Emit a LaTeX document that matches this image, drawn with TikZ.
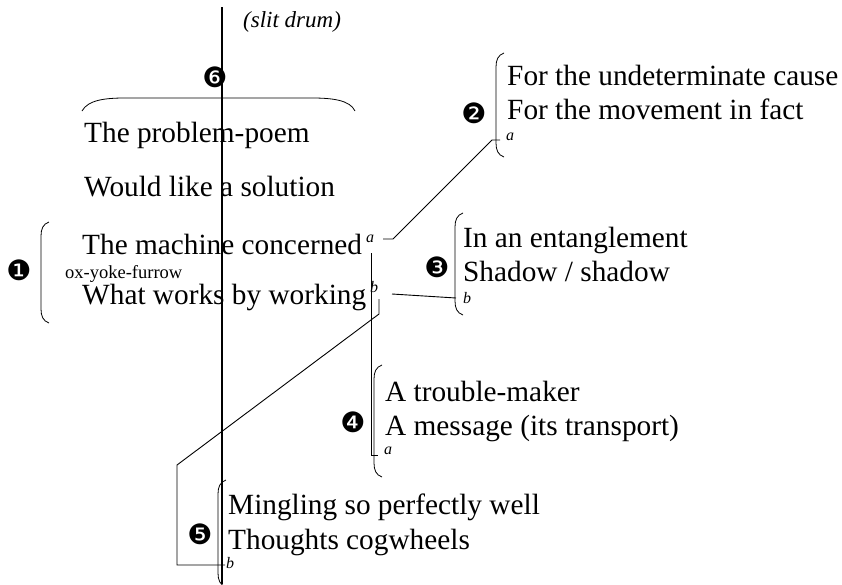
\documentclass[tikz,border=0pt]{standalone}
\usepackage{fontspec}
\setmainfont{Liberation Serif}
\newfontfamily\dingfont{DejaVu Sans}
\newcommand\lbrk[3]{\draw[brk] ({#1+8},#2) .. controls ({#1+2},{#2+2}) and (#1,{#2+7}) .. (#1,{#2+14}) -- (#1,{#3-14}) .. controls (#1,{#3-7}) and ({#1+2},{#3-2}) .. ({#1+8},#3);}
\begin{document}
\begin{tikzpicture}[x=1pt,y=-1pt,
  big/.style={anchor=base west,inner sep=0pt,font=\fontsize{29.3}{34}\selectfont},
  lab/.style={anchor=base west,inner sep=0pt,font=\fontsize{16}{18}\selectfont\itshape},
  num/.style={inner sep=0pt,font=\dingfont\fontsize{28}{28}\selectfont},
  brk/.style={line width=0.8pt},
  ln/.style={line width=0.9pt}]
\useasboundingbox[fill=white] (0,0) rectangle (842,584);
% texts
\node[anchor=base west,inner sep=0pt,font=\fontsize{23}{26}\selectfont\itshape] (slit) at (243,27) {(slit drum)};
\node[big] (t1) at (84,142) {The problem-poem};
\node[big] (t2) at (84,196) {Would like a solution};
\node[big] (t3) at (82,254) {The machine concerned};
\node[anchor=base west,inner sep=0pt,font=\fontsize{18.5}{20}\selectfont] (oyf) at (65,278) {ox-yoke-furrow};
\node[big] (t4) at (82,304) {What works by working};
\node[big] (f1) at (507,85) {For the undeterminate cause};
\node[big] (f2) at (507,119) {For the movement in fact};
\node[big] (e1) at (463,247) {In an entanglement};
\node[big] (e2) at (463,281) {Shadow / shadow};
\node[big] (m1) at (385,401) {A trouble-maker};
\node[big] (m2) at (385,435) {A message (its transport)};
\node[big] (g1) at (228,514) {Mingling so perfectly well};
\node[big] (g2) at (228,549) {Thoughts cogwheels};
% small labels
\node[lab] (a1) at (366,242) {a};
\node[lab] (b1) at (370,292) {b};
\node[lab] (a2) at (506,140) {a};
\node[lab] (b3) at (463,303) {b};
\node[lab] (a4) at (384,454) {a};
\node[lab] (b5) at (226,568) {b};
% numbers
\node[num] (n1) at (19,270) {❶};
\node[num] (n2) at (474,113) {❷};
\node[num] (n3) at (437,267) {❸};
\node[num] (n4) at (353,422) {❹};
\node[num] (n5) at (200,534) {❺};
\node[num] (n6) at (215,77) {❻};
% brackets
\draw[brk] (82,111) .. controls (88,100) and (105,98) .. (125,98) -- (312,98) .. controls (332,98) and (350,100) .. (355,111);
\lbrk{41}{222}{323}
\lbrk{496}{53}{157}
\lbrk{455}{213}{315}
\lbrk{374}{365}{477}
\lbrk{218}{480}{587}
% main line
\coordinate (top) at (222,7);
\coordinate (bot) at (222,584);
\draw[line width=1.3pt] (top) -- (bot);
% tick points
\coordinate (a1r) at (383,239);
\coordinate (a1d) at (371,253);
\coordinate (b1r) at (392,294);
\coordinate (b1d) at (379,299);
\coordinate (k2) at (500,140);
\coordinate (k3) at (456,298);
\coordinate (k4) at (378,455);
\coordinate (k5) at (225,565);
% connectors
\draw[ln] (a1r) -- (393,239) -- (492,140) -- (k2);
\draw[ln] (a1d) |- (k4);
\draw[ln] (b1r) -- (k3);
\draw[ln] (b1d) -- (379,314) -- (177,465) -- (177,565) -- (k5);
\end{tikzpicture}
\end{document}
